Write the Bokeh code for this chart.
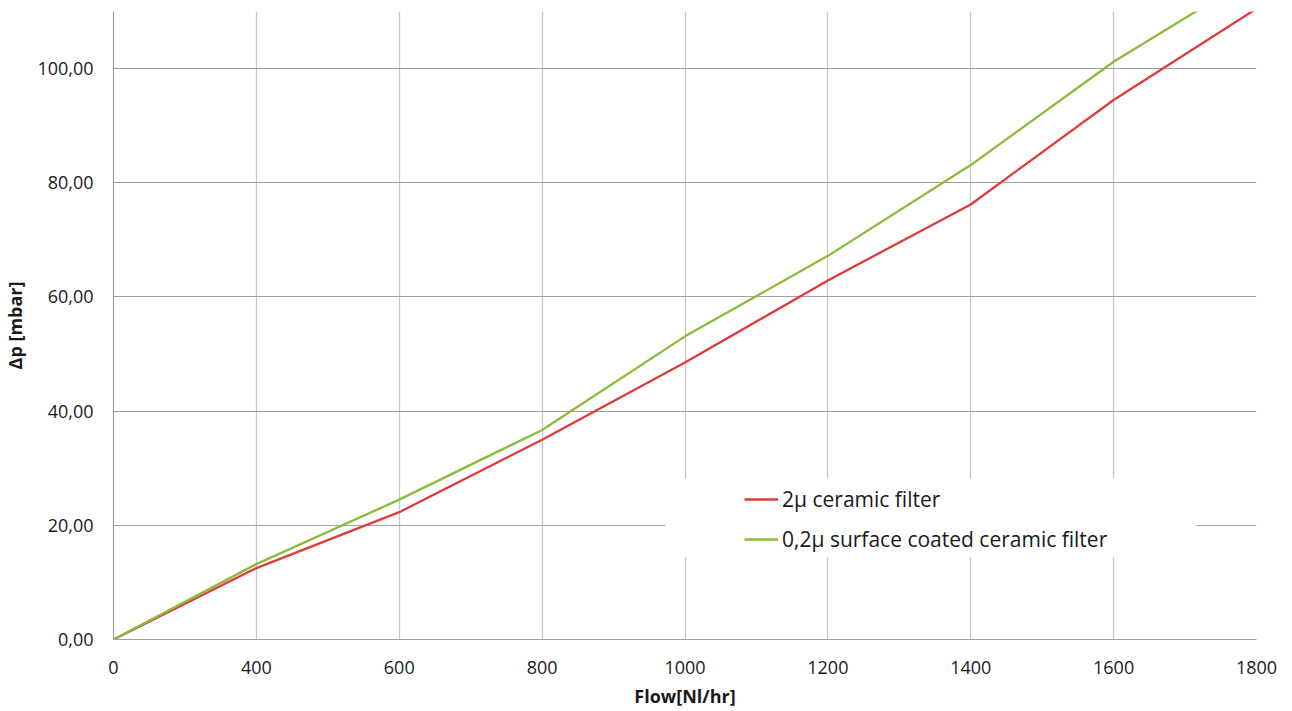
from bokeh.plotting import figure
from bokeh.models import Range1d, FixedTicker, Legend, LegendItem, BoxAnnotation
from bokeh.embed import file_html
from bokeh.resources import INLINE

# ---- data ----
flow = [0, 400, 600, 800, 1000, 1200, 1400, 1600, 1800]
dp_2u = [0.0, 12.5, 22.3, 35.0, 48.5, 62.9, 76.2, 94.5, 110.5]
dp_02u = [0.0, 13.2, 24.5, 36.7, 53.1, 67.2, 83.1, 101.2, 116.5]
y_ticks = [0, 20, 40, 60, 80, 100]
series_names = ["2\u00b5 ceramic filter", "0,2\u00b5 surface coated ceramic filter"]
x_title = "Flow[Nl/hr]"
y_title = "\u0394p [mbar]"

FONT = "Open Sans"
TXT = "#1a1a1a"

x_pos = list(range(len(flow)))

p = figure(width=1292, height=711, output_backend="svg", toolbar_location=None,
           x_range=Range1d(0, len(flow) - 1), y_range=Range1d(0, 110),
           min_border_left=113, min_border_right=36, min_border_top=11,
           min_border_bottom=72)
p.outline_line_color = None
p.background_fill_color = "white"
p.border_fill_color = "white"

# axes
p.xaxis.ticker = FixedTicker(ticks=x_pos)
p.xaxis.major_label_overrides = {i: str(f) for i, f in zip(x_pos, flow)}
p.yaxis.ticker = FixedTicker(ticks=y_ticks)
p.yaxis.major_label_overrides = {t: f"{t:.2f}".replace(".", ",") for t in y_ticks}

for ax in (p.xaxis[0], p.yaxis[0]):
    ax.major_tick_out = 0
    ax.major_tick_in = 0
    ax.minor_tick_out = 0
    ax.minor_tick_in = 0
    ax.axis_line_color = "#a0a0a0"
    ax.axis_line_width = 1.2
    ax.major_label_text_font = FONT
    ax.major_label_text_font_size = "18px"
    ax.major_label_text_color = TXT
    ax.axis_label_text_font = FONT
    ax.axis_label_text_font_size = "18px"
    ax.axis_label_text_font_style = "bold"
    ax.axis_label_text_color = TXT

p.xaxis.axis_label = x_title
p.yaxis.axis_label = y_title
p.xaxis.major_label_standoff = 21
p.xaxis.axis_label_standoff = 7
p.yaxis.major_label_standoff = 20
p.yaxis.axis_label_standoff = 7

# grid
p.xgrid.ticker = FixedTicker(ticks=x_pos)
p.xgrid.grid_line_color = "#c8c8c8"
p.xgrid.grid_line_width = 1.3
p.ygrid.ticker = FixedTicker(ticks=y_ticks)
p.ygrid.grid_line_color = "#a0a0a0"
p.ygrid.grid_line_width = 1.2

# series
r1 = p.line(x_pos, dp_2u, line_color="#e03b3b", line_width=2.3)
r2 = p.line(x_pos, dp_02u, line_color="#8cbb3c", line_width=2.3)

# white area behind legend (hides gridlines like the original)
p.add_layout(BoxAnnotation(left=3.864, right=7.58, bottom=14.4, top=28.23,
                           fill_color="white", fill_alpha=1.0, line_color=None,
                           level="annotation"))

legend = Legend(items=[LegendItem(label=series_names[0], renderers=[r1]),
                       LegendItem(label=series_names[1], renderers=[r2])],
                location=(631, 86), orientation="vertical",
                padding=0, margin=0, spacing=12,
                glyph_width=34, glyph_height=26, label_height=26,
                label_standoff=4,
                label_text_font=FONT, label_text_font_size="21px",
                label_text_color=TXT,
                border_line_color=None, background_fill_alpha=0.0)
p.add_layout(legend, "center")

open("out.html", "w").write(file_html(p, INLINE))
